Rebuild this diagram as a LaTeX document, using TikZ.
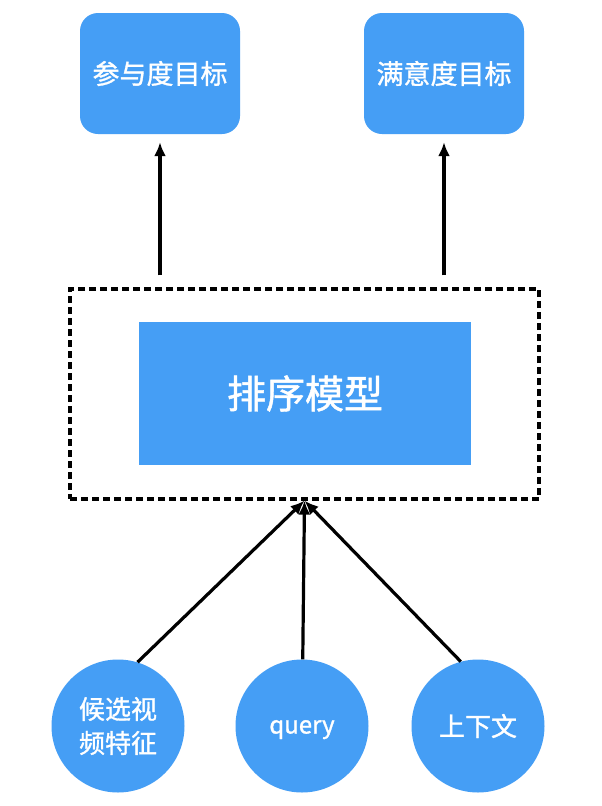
\documentclass[tikz,border=0pt]{standalone}
\usepackage{fontspec}
\setmainfont{Noto Sans CJK SC}
\newfontfamily\medfont[FakeBold=1.2]{Noto Sans CJK SC}
\usetikzlibrary{arrows.meta}
\definecolor{boxColor}{RGB}{69,158,245}
\definecolor{drawColor}{RGB}{0,0,0}
\begin{document}
\begin{tikzpicture}[x=1pt,y=-1pt,
  goal/.style={fill=boxColor,rounded corners=18pt,minimum width=160pt,minimum height=121pt,inner sep=0pt,text=white,font=\medfont\fontsize{27}{30}\selectfont},
  model/.style={fill=boxColor,minimum width=332pt,minimum height=143pt,inner sep=0pt,text=white,font=\medfont\fontsize{39}{44}\selectfont},
  frame/.style={draw=drawColor,line width=3.2pt,dash pattern=on 7pt off 4pt,minimum width=469pt,minimum height=210pt,inner sep=0pt},
  feature/.style={circle,fill=boxColor,minimum size=133pt,inner sep=0pt,text=white,align=center,font=\medfont\fontsize{26}{34}\selectfont},
  arrow/.style={draw=drawColor,line width=3.2pt,-{Latex[length=14pt,width=12pt]}}]
\path[use as bounding box,fill=white] (0,0) rectangle (602,806);

% targets
\node[goal] (engage) at (160,73.5) {参与度目标};
\node[goal] (satisfy) at (444,73.5) {满意度目标};

% ranking model
\node[frame] (frame) at (304.5,394) {};
\node[model] (rank) at (305,393.5) {排序模型};

% input features
\node[feature] (video) at (118,726) {候选视\\频特征};
\node[feature] (query) at (302,726) {\fontsize{24}{30}\selectfont\raisebox{-7.5pt}[0pt][0pt]{query}};
\node[feature] (context) at (478,726) {上下文};

\draw[arrow,shorten <=12pt,shorten >=8pt] (engage |- frame.north) -- (engage.south);
\draw[arrow,shorten <=12pt,shorten >=8pt] (satisfy |- frame.north) -- (satisfy.south);

\draw[arrow] (video.73) -- (frame.south);
\draw[arrow] (query) -- (frame.south);
\draw[arrow] (context.105) -- (frame.south);
\end{tikzpicture}
\end{document}
